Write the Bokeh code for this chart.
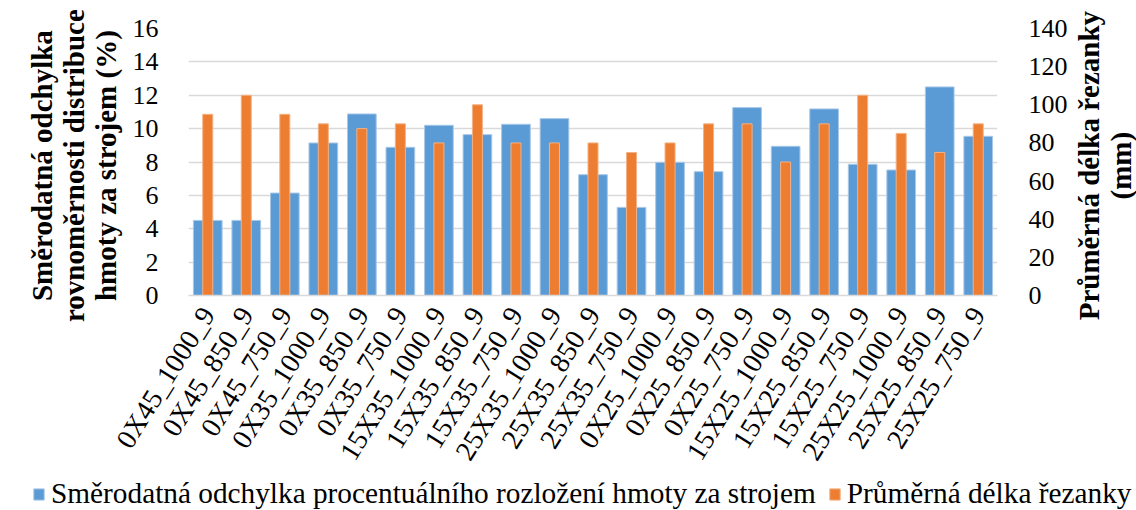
import math
from bokeh.plotting import figure
from bokeh.layouts import row, column
from bokeh.models import (FactorRange, Range1d, LinearAxis, FixedTicker, Legend,
                          LegendItem, ColumnDataSource)
from bokeh.embed import file_html
from bokeh.resources import INLINE

categories = ["0X45_1000_9", "0X45_850_9", "0X45_750_9", "0X35_1000_9", "0X35_850_9",
              "0X35_750_9", "15X35_1000_9", "15X35_850_9", "15X35_750_9", "25X35_1000_9",
              "25X35_850_9", "25X35_750_9", "0X25_1000_9", "0X25_850_9", "0X25_750_9",
              "15X25_1000_9", "15X25_850_9", "15X25_750_9", "25X25_1000_9", "25X25_850_9",
              "25X25_750_9"]
std_dev = [4.5, 4.5, 6.14, 9.14, 10.88, 8.88, 10.2, 9.64, 10.26, 10.6, 7.24, 5.28,
           7.98, 7.42, 11.26, 8.94, 11.18, 7.86, 7.52, 12.5, 9.54]
mean_len = [95, 105, 95, 90, 87.5, 90, 80, 100, 80, 80, 80, 75, 80, 90, 90, 70, 90,
            105, 85, 75, 90]
left_ticks = [0, 2, 4, 6, 8, 10, 12, 14, 16]
right_ticks = [0, 20, 40, 60, 80, 100, 120, 140]

label_left = "Směrodatná odchylka procentuálního rozložení hmoty za strojem"
label_right = "Průměrná délka řezanky"
title_left_lines = ["Směrodatná odchylka", "rovnoměrnosti distribuce", "hmoty za strojem (%)"]
title_right_lines = ["Průměrná délka řezanky", "(mm)"]

FONT = "Liberation Serif"
BLUE = "#5B9BD5"
ORANGE = "#ED7D31"
BLUE_EDGE = "#A9C8E8"
ORANGE_EDGE = "#F4B183"

TOP_H = 476      # upper row height
LEG_H = 34       # legend strip height
RIGHT_W = 66     # right title strip width
MAIN_W = 1136 - RIGHT_W
NBSP = "\u00a0"


def pad(lines, n):
    # a trailing no-break space moves a centred rotated title slightly lower
    return "\n".join(line + NBSP * n for line in lines)


src = ColumnDataSource(dict(cat=categories, sd=std_dev, ml=mean_len))

p = figure(x_range=FactorRange(*categories), y_range=Range1d(0, 16),
           width=MAIN_W, height=TOP_H, output_backend="svg", toolbar_location=None,
           min_border_left=188, min_border_right=MAIN_W - 1006, min_border_top=28,
           min_border_bottom=TOP_H - 295)
p.extra_y_ranges = {"right": Range1d(0, 140)}

r1 = p.vbar(x="cat", top="sd", width=0.745, source=src, fill_color=BLUE,
            line_color=BLUE_EDGE, line_width=1)
r2 = p.vbar(x="cat", top="ml", width=0.26, source=src, fill_color=ORANGE,
            line_color=ORANGE_EDGE, line_width=1, y_range_name="right")

p.outline_line_color = None
p.xgrid.grid_line_color = None
p.ygrid.grid_line_color = "#D9D9D9"
p.ygrid.grid_line_width = 1.5
p.ygrid.ticker = FixedTicker(ticks=left_ticks)

ya = p.yaxis[0]
ya.ticker = FixedTicker(ticks=left_ticks)
ya.axis_line_color = None
ya.major_tick_line_color = None
ya.minor_tick_line_color = None
ya.major_label_standoff = 24
ya.major_label_text_font = FONT
ya.major_label_text_font_size = "26px"
ya.major_label_text_color = "#000000"
ya.axis_label = pad(title_left_lines, 1)
ya.axis_label_text_font = FONT
ya.axis_label_text_font_style = "bold"
ya.axis_label_text_font_size = "29px"
ya.axis_label_text_line_height = 1.0
ya.axis_label_text_color = "#000000"
ya.axis_label_standoff = 8

ra = LinearAxis(y_range_name="right", ticker=FixedTicker(ticks=right_ticks))
ra.axis_line_color = None
ra.major_tick_line_color = None
ra.minor_tick_line_color = None
ra.major_label_standoff = 25
ra.major_label_text_font = FONT
ra.major_label_text_font_size = "26px"
ra.major_label_text_color = "#000000"
p.add_layout(ra, "right")

xa = p.xaxis[0]
xa.axis_line_color = "#D9D9D9"
xa.axis_line_width = 1.5
xa.major_tick_line_color = None
xa.minor_tick_line_color = None
xa.major_label_orientation = math.radians(58)
xa.major_label_standoff = 8
xa.major_label_text_font = FONT
xa.major_label_text_font_size = "28px"
xa.major_label_text_color = "#000000"

# right title: a label-only axis of a narrow strip, so it reads bottom-to-top
rfig = figure(width=RIGHT_W, height=TOP_H, x_range=Range1d(0, 1), y_range=Range1d(0, 1),
              min_border_left=RIGHT_W - 1, min_border_right=0, min_border_top=0,
              min_border_bottom=0, x_axis_location=None, y_axis_location="left",
              toolbar_location=None, output_backend="svg")
rfig.outline_line_color = None
rfig.grid.visible = False
tax = rfig.yaxis[0]
tax.ticker = FixedTicker(ticks=[])
tax.axis_line_color = None
tax.major_tick_line_color = None
tax.minor_tick_line_color = None
tax.major_tick_out = 0
tax.major_tick_in = 0
tax.minor_tick_out = 0
tax.minor_tick_in = 0
tax.axis_label = pad(title_right_lines, 1)
tax.axis_label_text_font = FONT
tax.axis_label_text_font_style = "bold"
tax.axis_label_text_font_size = "29px"
tax.axis_label_text_line_height = 0.97
tax.axis_label_text_color = "#000000"
tax.axis_label_standoff = 0

# legend strip
lg = figure(width=1136, height=LEG_H, x_range=Range1d(0, 1), y_range=Range1d(0, 1),
            min_border=0, x_axis_location=None, y_axis_location=None,
            toolbar_location=None, output_backend="svg")
lg.outline_line_color = None
lg.grid.visible = False
proxy = ColumnDataSource(dict(x=[-1], top=[-1]))
k1 = lg.vbar(x="x", top="top", width=0.1, source=proxy, fill_color=BLUE,
             line_color=BLUE_EDGE)
k2 = lg.vbar(x="x", top="top", width=0.1, source=proxy, fill_color=ORANGE,
             line_color=ORANGE_EDGE)
legend = Legend(items=[LegendItem(label=label_left, renderers=[k1]),
                       LegendItem(label=label_right, renderers=[k2])],
                location=(32, 0), orientation="horizontal")
legend.label_text_font = FONT
legend.label_text_font_size = "29.3px"
legend.label_text_color = "#000000"
legend.glyph_width = 13
legend.glyph_height = 14
legend.label_standoff = 6
legend.spacing = 12
legend.padding = 0
legend.margin = 0
legend.background_fill_alpha = 0
legend.border_line_color = None
lg.add_layout(legend, "center")

layout = column(row(p, rfig), lg)
open("out.html", "w").write(file_html(layout, INLINE))
